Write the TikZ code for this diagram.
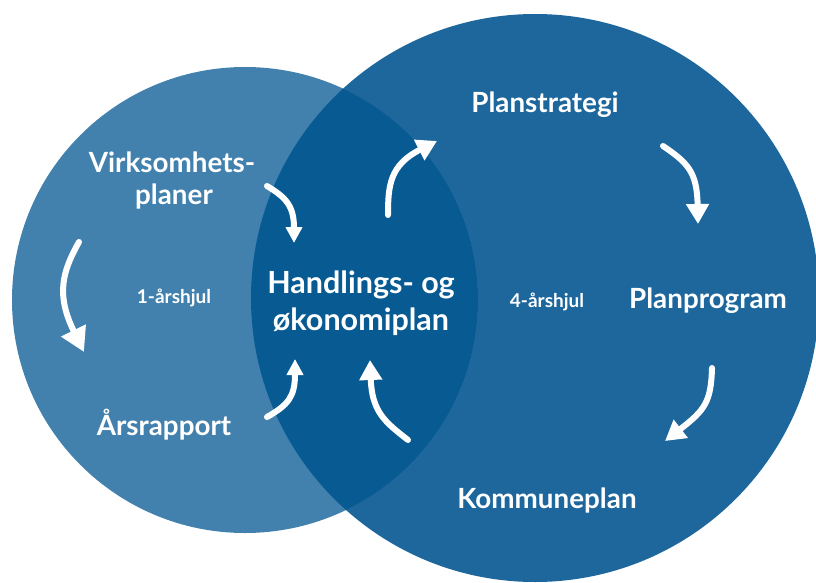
\documentclass[tikz,border=0pt]{standalone}
\usepackage{fontspec}
\setmainfont{Lato}[BoldFont={* Bold}]
\usetikzlibrary{arrows.meta}
\definecolor{leftc}{HTML}{4281AE}
\definecolor{rightc}{HTML}{1D679D}
\definecolor{overc}{HTML}{085A92}
\tikzset{
  lbl/.style={text=white,font=\bfseries,inner sep=0pt,anchor=base},
  big/.style={lbl,font=\bfseries\fontsize{27.8}{32}\selectfont},
  huge/.style={lbl,font=\bfseries\fontsize{30.5}{36}\selectfont},
  small/.style={lbl,font=\bfseries\fontsize{19}{22}\selectfont},
  flow/.style={draw=white,line width=6pt,line cap=round,-{Triangle[length=20pt,width=22pt]}},
  flowbig/.style={draw=white,line width=6pt,line cap=round,-{Triangle[length=24pt,width=26pt]}},
  flowsm/.style={draw=white,line width=6pt,line cap=round,-{Triangle[length=16pt,width=16pt]}}
}
\begin{document}
\begin{tikzpicture}[x=1pt,y=-1pt]
\useasboundingbox (0,0) rectangle (816,583);
% circles
\fill[rightc] (535,298) circle[radius=284];
\fill[leftc] (245,300) circle[radius=233];
\begin{scope}
  \clip (245,300) circle[radius=233];
  \fill[overc] (535,298) circle[radius=284];
\end{scope}
% labels
\node[big] (plans) at (545,113) {Planstrategi};
\node[big] (virk1) at (172,172) {Virksomhets-};
\node[big] (virk2) at (174,204) {planer};
\node[huge] (hand1) at (361,293) {Handlings- og};
\node[huge] (hand2) at (361,330) {økonomiplan};
\node[small] (aar1) at (174,303) {1-årshjul};
\node[small] (aar4) at (547,307) {4-årshjul};
\node[big] (plprog) at (708,308) {Planprogram};
\node[big] (komm) at (547,508) {Kommuneplan};
\node[big] (arsr) at (164,435) {Årsrapport};
% arrow end points
\coordinate (a1s) at (79,242);
\coordinate (a1e) at (84,352);
\coordinate (a2s) at (267,186);
\coordinate (a2e) at (294,243);
\coordinate (a3s) at (267,417);
\coordinate (a3e) at (295,359);
\coordinate (a4s) at (408,440);
\coordinate (a4e) at (370,360);
\coordinate (a5s) at (388,215);
\coordinate (a5e) at (437,141);
\coordinate (a6s) at (663,146);
\coordinate (a6e) at (698,224);
\coordinate (a7s) at (712,368);
\coordinate (a7e) at (665,441);
% arrows
\draw[flowbig] (a1s) .. controls (62,272) and (56,295) .. (a1e);
\draw[flowsm] (a2s) .. controls (285,197) and (294,205) .. (a2e);
\draw[flowsm] (a3s) .. controls (288,405) and (295,397) .. (a3e);
\draw[flow] (a4s) .. controls (385,422) and (372,412) .. (a4e);
\draw[flow] (a5s) .. controls (388,185) and (390,165) .. (a5e);
\draw[flow] (a6s) .. controls (688,163) and (697,172) .. (a6e);
\draw[flow] (a7s) .. controls (711,402) and (705,410) .. (a7e);
\end{tikzpicture}
\end{document}
